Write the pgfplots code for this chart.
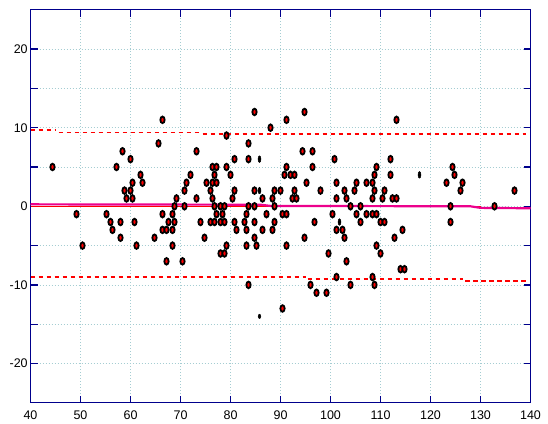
\documentclass[border=0pt]{standalone}
\usepackage{pgfplots}
\pgfplotsset{compat=1.18}
\usepackage{fontspec}
\setmainfont{Liberation Sans}
\definecolor{axnavy}{RGB}{0,0,140}
\definecolor{gridc}{RGB}{165,205,210}
\begin{document}
\begin{tikzpicture}
\begin{axis}[
  scale only axis, width=500pt, height=393pt,
  xmin=40, xmax=140, ymin=-25, ymax=25,
  xtick={40,50,...,140},
  ytick={-20,-15,...,20},
  yticklabels={-20,,-10,,0,,10,,20},
  tick align=inside,
  major tick length=7pt,
  axis line style={axnavy, line width=1.2pt},
  tick style={axnavy, line width=1.2pt},
  grid=major,
  major grid style={gridc, line width=0.8pt, dash pattern=on 1pt off 2pt},
  tick label style={font=\fontsize{12.5}{14}\selectfont, /pgf/number format/assume math mode=true},
  xticklabel style={inner sep=0pt, anchor=north, yshift=-8.2pt},
  yticklabel style={inner sep=0pt, anchor=east, xshift=-2.6pt},
  clip=false,
]
% upper and lower limits (dashed red)
\addplot[red, line width=1.6pt, dash pattern=on 4.5pt off 3.5pt] coordinates {(40,9.7)(45,9.7)};
\addplot[red, line width=1.6pt, dash pattern=on 4.5pt off 3.5pt] coordinates {(45.6,9.4)(74,9.4)};
\addplot[red, line width=1.6pt, dash pattern=on 4.5pt off 3.5pt] coordinates {(74.4,9.2)(139,9.2)};
\addplot[red, line width=1.6pt, dash pattern=on 4.5pt off 3.5pt] coordinates {(40,-9.0)(95,-9.0)};
\addplot[red, line width=1.6pt, dash pattern=on 4.5pt off 3.5pt] coordinates {(95.4,-9.25)(126.5,-9.25)};
\addplot[red, line width=1.6pt, dash pattern=on 4.5pt off 3.5pt] coordinates {(126.9,-9.5)(139,-9.5)};
% mean line (red) and smoothed line (magenta)
\addplot[red, line width=1pt] coordinates {(40,-0.05)(130,-0.05)};
\addplot[magenta, line width=2.2pt] coordinates {(40,0.25)(86,0.2)(88,0.05)(128,0.0)(130,-0.2)(140,-0.25)};
% data points
\addplot[only marks, mark=*, mark size=3.3pt,
  mark options={xscale=0.65, draw=black, fill=red, line width=1.8pt}] coordinates {
(44.4,5)(57.2,5)(49.2,-1)(55.2,-1)(56,-2)(58,-2)(56.4,-3)(58,-4)(50.4,-5)
(66.4,11)(65.6,8)(58.4,7)(60,6)(62,4)(62.4,3)(60.4,3)(58.8,2)(60,2)(59.2,1)(60.4,1)
(72,4)(71.2,3)(70.8,2)(69.2,1)(68.8,0)(70.8,0)(66.4,-1)(68.4,-1)(60.8,-2)(67.6,-2)
(68.8,-2)(66.4,-3)(67.2,-3)(68.4,-3)(64.8,-4)(61.2,-5)(68.4,-5)(67.2,-7)(70.4,-7)
(84.8,12)(79.2,9)(83.6,8)(73.2,7)(80.8,6)(83.6,6)(76.4,5)(77.2,5)(79.2,5)(76.8,4)
(80,4)(75.2,3)(76.4,3)(77.2,3)(76,2)(80.8,2)(84.8,2)(73.2,1)(76.4,1)(80.4,1)(86.4,1)
(76.8,0)(78,0)(78.8,0)(83.6,0)(84.8,0)(77.2,-1)(78.4,-1)(83.2,-1)(87.2,-1)
(74,-2)(76,-2)(76.8,-2)(78,-2)(78.8,-2)(80.8,-2)(82.8,-2)(84.8,-2)
(81.2,-3)(83.2,-3)(86.4,-3)(74.8,-4)(84.8,-4)(79.2,-5)(83.2,-5)(85.2,-5)(78,-6)(78.8,-6)(83.6,-10)
(94.8,12)(91.2,11)(88,10)(94.4,7)(96.4,7)(100.8,6)(96.4,5)(91.2,5)(90.8,4)(92,4)(92.8,4)
(95.2,3)(101.2,3)(88.8,2)(90,2)(92.8,2)(98,2)(88.4,1)(92.4,1)(93.2,1)(101.2,1)(88.8,0)
(90.4,-1)(91.2,-1)(100.4,-1)(88.8,-2)(96.8,-2)(88.4,-3)(101.2,-3)(94.8,-4)(91.2,-5)
(99.6,-6)(101.2,-9)(96,-10)(97.2,-11)(99.2,-11)(90.4,-13)
(113.2,11)(112,6)(109.2,5)(112,4)(108.8,4)(105.2,3)(107.2,3)(108.4,3)
(102.8,2)(104.8,2)(108.8,2)(110.8,2)(103.2,1)(108.4,1)(110.4,1)(112.4,1)(113.2,1)
(104,0)(106,0)(105.2,-1)(107.2,-1)(108.4,-1)(109.2,-1)(106,-2)(110,-2)(110.8,-2)
(102.4,-3)(114.4,-3)(102.8,-4)(112.8,-4)(109.2,-5)(110,-6)(103.2,-7)(114,-8)(114.8,-8)
(108.4,-9)(104,-10)(108.8,-10)
(124.4,5)(124.8,4)(123.2,3)(126.4,3)(126,2)(124,0)(132.8,0)(124,-2)(136.8,2)
};
% partly hidden (black) points
\addplot[only marks, mark=*, mark size=3.3pt,
  mark options={xscale=0.45, draw=black, fill=black, line width=0.5pt}] coordinates {
(85.8,6)(85.8,2)(101.8,-2)(117.8,4)};
\addplot[only marks, mark=*, mark size=2.2pt,
  mark options={xscale=0.6, draw=black, fill=black, line width=0.5pt}] coordinates {(85.8,-14)};
\end{axis}
\pgfresetboundingbox
\path[use as bounding box] ([shift={(-30.5pt,-20.2pt)}]current axis.south west) rectangle ([shift={(17.5pt,9.8pt)}]current axis.north east);
\end{tikzpicture}
\end{document}
